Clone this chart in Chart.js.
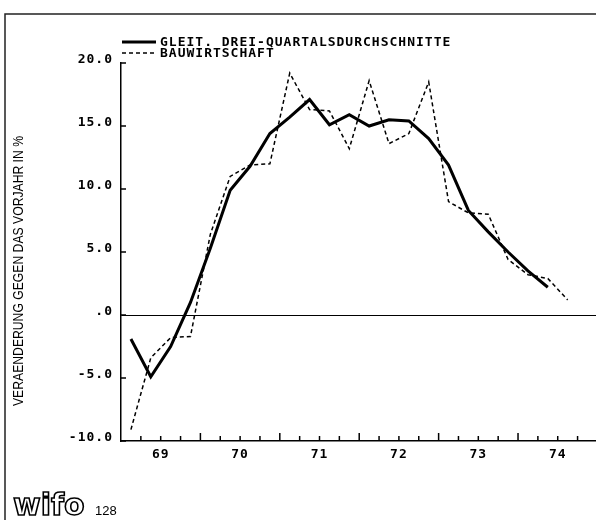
<!DOCTYPE html>
<html>
<head>
<meta charset="utf-8">
<script src="https://cdn.jsdelivr.net/npm/chart.js@4.4.1/dist/chart.umd.min.js"></script>
<style>
  html, body { margin: 0; padding: 0; background: #fff; }
  canvas { display: block; }
</style>
</head>
<body>
<canvas id="bauChart" width="596" height="520"></canvas>
<script>
// quarters 1969 I .. 1974 III
const quarters = [
  "69Q1", "69Q2", "69Q3", "69Q4",
  "70Q1", "70Q2", "70Q3", "70Q4",
  "71Q1", "71Q2", "71Q3", "71Q4",
  "72Q1", "72Q2", "72Q3", "72Q4",
  "73Q1", "73Q2", "73Q3", "73Q4",
  "74Q1", "74Q2", "74Q3",
];

const bauwirtschaft = [
  -9.1, -3.4, -1.8, -1.7,
  6.4, 11.0, 11.9, 12.0,
  19.2, 16.3, 16.2, 13.2,
  18.6, 13.6, 14.4, 18.5,
  9.0, 8.1, 8.0, 4.4,
  3.2, 2.9, 1.2,
];

const gleitDurchschnitt = [
  -1.9, -4.9, -2.5, 1.0,
  5.3, 9.9, 11.8, 14.4,
  15.7, 17.1, 15.1, 15.9,
  15.0, 15.5, 15.4, 14.0,
  11.9, 8.3, 6.6, 5.0,
  3.5, 2.2,
];

const yearLabels = ["69", "70", "71", "72", "73", "74"];
const yTicks = [-10, -5, 0, 5, 10, 15, 20];
const yTickLabels = ["-10.0", "-5.0", ".0", "5.0", "10.0", "15.0", "20.0"];

const yTitle = "VERAENDERUNG GEGEN DAS VORJAHR IN %";

// quarter -> position on the year axis (middle of the quarter)
function qPos(q) {
  return Number(q.slice(0, 2)) + (Number(q.slice(3)) - 0.5) / 4;
}

function points(values) {
  return values.map((v, i) => ({ x: qPos(quarters[i]), y: v }));
}

const monoFont = "'DejaVu Sans Mono', monospace";

// frame, inner tick marks, legend, axis title and logo
const scanDecor = {
  id: "scanDecor",
  beforeDraw(chart) {
    const c = chart.ctx;
    c.save();
    c.fillStyle = "#fff";
    c.fillRect(0, 0, chart.width, chart.height);
    c.strokeStyle = "#222";
    c.lineWidth = 1.5;
    c.beginPath();
    c.moveTo(5, chart.height);
    c.lineTo(5, 14);
    c.lineTo(chart.width, 14);
    c.stroke();
    c.restore();
    // plotter lettering is spaced out
    c.letterSpacing = "1px";
  },
  afterDraw(chart) {
    const c = chart.ctx;
    const xs = chart.scales.x;
    const ys = chart.scales.y;
    const area = chart.chartArea;
    c.save();
    c.strokeStyle = "#000";
    c.lineWidth = 1.5;

    // x tick marks pointing into the plot, taller at the year boundaries
    c.beginPath();
    for (let k = 1; k < 24; k++) {
      const px = xs.getPixelForValue(69 + k / 4);
      const len = k % 4 === 0 ? 8 : 5;
      c.moveTo(px, area.bottom);
      c.lineTo(px, area.bottom - len);
    }
    // y tick marks
    yTicks.forEach((v) => {
      const py = ys.getPixelForValue(v);
      c.moveTo(area.left, py);
      c.lineTo(area.left + 5, py);
    });
    c.stroke();

    // legend
    const ds = chart.data.datasets;
    const rows = [42, 53];
    c.fillStyle = "#000";
    c.font = "bold 13px " + monoFont;
    c.letterSpacing = "1px";
    c.textBaseline = "middle";
    ds.forEach((d, i) => {
      c.beginPath();
      c.lineWidth = d.borderWidth;
      c.setLineDash(d.borderDash || []);
      c.moveTo(area.left + 1, rows[i]);
      c.lineTo(area.left + 35, rows[i]);
      c.stroke();
      c.setLineDash([]);
      c.fillText(d.label, 160, rows[i] + 1);
    });
    c.letterSpacing = "0px";

    // y axis title, rotated
    c.save();
    c.translate(19, 406);
    c.rotate(-Math.PI / 2);
    c.font = "14.5px 'Liberation Sans', Arial, sans-serif";
    const w = c.measureText(yTitle).width;
    c.scale(270 / w, 1);
    c.textAlign = "left";
    c.textBaseline = "middle";
    c.fillText(yTitle, 0, 0);
    c.restore();

    // wifo logo and page number
    c.font = "bold 30px 'DejaVu Sans', sans-serif";
    c.textBaseline = "alphabetic";
    c.lineWidth = 1.6;
    c.fillStyle = "#fff";
    c.fillText("wifo", 13, 515);
    c.strokeText("wifo", 13, 515);
    c.fillStyle = "#000";
    c.font = "13px 'Liberation Sans', Arial, sans-serif";
    c.fillText("128", 95, 515);
    c.restore();
  },
};

const ctx = document.getElementById("bauChart").getContext("2d");

const bauChart = new Chart(ctx, {
  type: "line",
  data: {
    datasets: [
      {
        label: "GLEIT. DREI-QUARTALSDURCHSCHNITTE",
        data: points(gleitDurchschnitt),
        borderColor: "#000",
        borderWidth: 3,
        pointRadius: 0,
        tension: 0,
        fill: false,
      },
      {
        label: "BAUWIRTSCHAFT",
        data: points(bauwirtschaft),
        borderColor: "#000",
        borderWidth: 1.5,
        borderDash: [4, 3],
        pointRadius: 0,
        tension: 0,
        fill: false,
      },
    ],
  },
  options: {
    responsive: false,
    animation: false,
    devicePixelRatio: 1,
    layout: {
      padding: { top: 63, left: 0, right: 0, bottom: 0 },
    },
    plugins: {
      legend: { display: false },
      tooltip: { enabled: false },
    },
    scales: {
      x: {
        type: "linear",
        min: 69,
        max: 74.982,
        afterBuildTicks(scale) {
          scale.ticks = yearLabels.map((y) => ({ value: Number(y) + 0.5 }));
        },
        afterFit(scale) {
          scale.height = 79;
        },
        ticks: {
          autoSkip: false,
          maxRotation: 0,
          padding: 6,
          color: "#000",
          font: { family: monoFont, size: 13, weight: "bold" },
          callback: (v, i) => yearLabels[i],
        },
        grid: { display: false, drawTicks: false },
        border: { display: true, color: "#000", width: 1.5 },
      },
      y: {
        min: -10,
        max: 20,
        afterBuildTicks(scale) {
          scale.ticks = yTicks.map((v) => ({ value: v }));
        },
        afterFit(scale) {
          scale.width = 121;
        },
        ticks: {
          padding: 8,
          labelOffset: -3,
          color: "#000",
          font: { family: monoFont, size: 13, weight: "bold" },
          callback: (v, i) => yTickLabels[i],
        },
        grid: {
          drawTicks: false,
          lineWidth: 1,
          color: (c) => (c.tick && c.tick.value === 0 ? "#000" : "rgba(0,0,0,0)"),
        },
        border: { display: true, color: "#000", width: 1.5 },
      },
    },
  },
  plugins: [scanDecor],
});
</script>
</body>
</html>
